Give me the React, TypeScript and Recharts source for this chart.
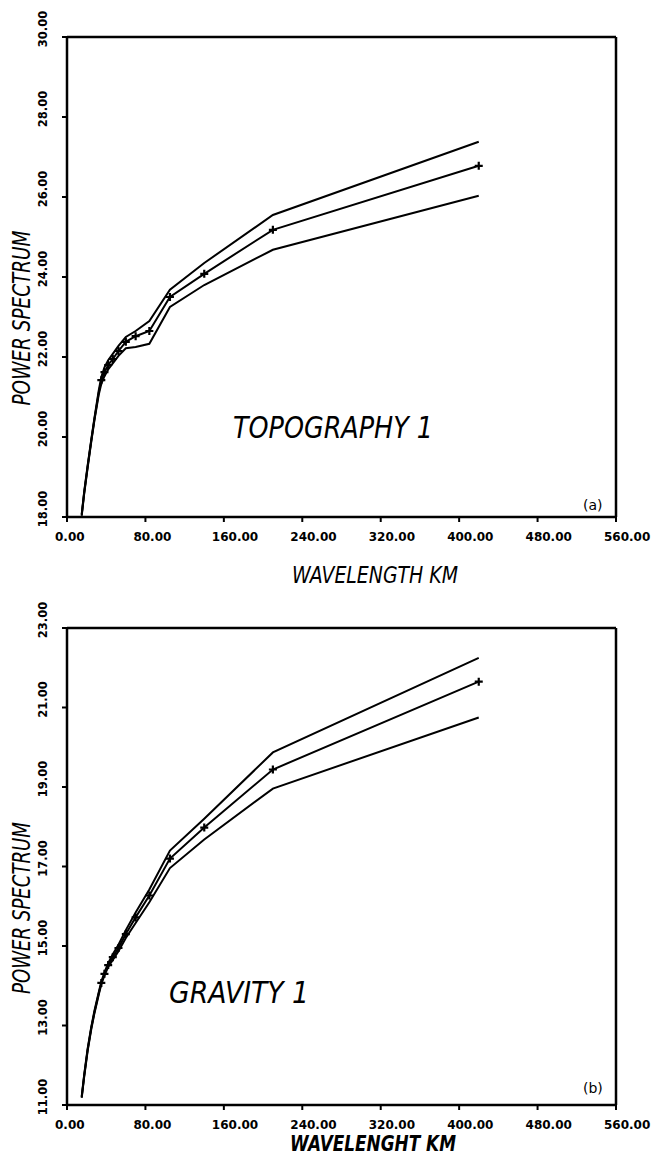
import React from "react";
import { LineChart, Line, XAxis, YAxis, ReferenceLine } from "recharts";

// wavelengths (km) shared by both spectra
const wavelength = [420, 210, 140, 105, 84, 70, 60, 52.5, 46.7, 42, 38.2, 35, 32.3, 28, 24.7, 21, 17.5, 15];

const topoUpper = [27.38, 25.55, 24.35, 23.68, 22.9, 22.65, 22.5, 22.28, 22.08, 21.92, 21.74, 21.5, 21.15, 20.48, 19.93, 19.28, 18.63, 18.07];
const topoMid = [26.78, 25.18, 24.08, 23.5, 22.65, 22.52, 22.38, 22.15, 21.95, 21.8, 21.62, 21.42, 21.1, 20.45, 19.9, 19.25, 18.6, 18.05];
const topoLower = [26.03, 24.68, 23.8, 23.25, 22.33, 22.25, 22.22, 22.03, 21.84, 21.69, 21.52, 21.33, 21.05, 20.42, 19.87, 19.22, 18.57, 18.03];

const gravUpper = [22.25, 19.87, 18.2, 17.4, 16.42, 15.84, 15.4, 15.03, 14.79, 14.57, 14.34, 14.1, 13.83, 13.37, 12.96, 12.41, 11.76, 11.22];
const gravMid = [21.65, 19.44, 17.98, 17.2, 16.27, 15.72, 15.3, 14.95, 14.72, 14.52, 14.3, 14.07, 13.8, 13.34, 12.93, 12.38, 11.73, 11.2];
const gravLower = [20.75, 18.96, 17.68, 16.96, 16.1, 15.58, 15.2, 14.87, 14.65, 14.47, 14.26, 14.04, 13.77, 13.31, 12.9, 12.35, 11.7, 11.18];

const xTicks = [0, 80, 160, 240, 320, 400, 480, 560];
const topoTicks = [18, 20, 22, 24, 26, 28, 30];
const gravTicks = [11, 13, 15, 17, 19, 21, 23];

const topoRows = wavelength.map((w, i) => ({ w, upper: topoUpper[i], mid: topoMid[i], lower: topoLower[i] }));
const gravRows = wavelength.map((w, i) => ({ w, upper: gravUpper[i], mid: gravMid[i], lower: gravLower[i] }));

const tickFont = '"DejaVu Sans", Verdana, sans-serif';
const handFont = '"DejaVu Sans Condensed", "Liberation Sans Narrow", "DejaVu Sans", sans-serif';

const XTick = (props: any) => {
  const { x, y, payload, dy } = props;
  return (
    <text x={x - 12} y={y} dy={dy} textAnchor="start" fontFamily={tickFont} fontWeight="bold" fontSize={12} fill="#000">
      {Number(payload.value).toFixed(2)}
    </text>
  );
};

const YTick = (props: any) => {
  const { x, y, payload } = props;
  const cx = x - 17;
  const cy = y - 8;
  return (
    <text
      x={cx}
      y={cy}
      transform={`rotate(-90 ${cx} ${cy})`}
      textAnchor="middle"
      dominantBaseline="central"
      fontFamily={tickFont}
      fontWeight="bold"
      fontSize={11.5}
      fill="#000"
    >
      {Number(payload.value).toFixed(2)}
    </text>
  );
};

const Plus = (props: any) => {
  const { cx, cy, payload, index } = props;
  if (payload.w < 35 || cx == null) return <g key={`p${index}`} />;
  return (
    <path
      key={`p${index}`}
      d={`M${cx - 4},${cy} L${cx + 4},${cy} M${cx},${cy - 4} L${cx},${cy + 4}`}
      stroke="#000"
      strokeWidth={2.2}
    />
  );
};

function Spectrum({ rows, ticks, top, height, axisH, labelDy }: { rows: any[]; ticks: number[]; top: number; height: number; axisH: number; labelDy: number }) {
  const lo = ticks[0];
  const hi = ticks[ticks.length - 1];
  return (
    <LineChart width={654} height={height} data={rows} margin={{ top, right: 38, bottom: 0, left: 0 }}>
      <XAxis
        dataKey="w"
        type="number"
        domain={[0, 560]}
        ticks={xTicks}
        height={axisH}
        tickSize={5}
        tick={<XTick dy={labelDy} />}
        axisLine={{ stroke: "#000", strokeWidth: 2.5 }}
        tickLine={{ stroke: "#000", strokeWidth: 2 }}
      />
      <YAxis
        type="number"
        domain={[lo, hi]}
        ticks={ticks}
        width={67}
        tickSize={5}
        tick={<YTick />}
        axisLine={{ stroke: "#000", strokeWidth: 2.5 }}
        tickLine={{ stroke: "#000", strokeWidth: 2 }}
      />
      <ReferenceLine y={hi} stroke="#000" strokeWidth={2.5} />
      <ReferenceLine x={560} stroke="#000" strokeWidth={2.5} />
      <Line type="linear" dataKey="upper" stroke="#000" strokeWidth={2} dot={false} isAnimationActive={false} />
      <Line type="linear" dataKey="lower" stroke="#000" strokeWidth={2} dot={false} isAnimationActive={false} />
      <Line type="linear" dataKey="mid" stroke="#000" strokeWidth={2} dot={<Plus />} isAnimationActive={false} />
    </LineChart>
  );
}

export default function App() {
  return (
    <div style={{ position: "absolute", top: 0, left: 0, width: 654, height: 1157, background: "#fff" }}>
      <div style={{ position: "absolute", top: 0, left: 0 }}>
        <Spectrum rows={topoRows} ticks={topoTicks} top={37} height={580} axisH={63} labelDy={17} />
      </div>
      <div style={{ position: "absolute", top: 580, left: 0 }}>
        <Spectrum rows={gravRows} ticks={gravTicks} top={48} height={577} axisH={52} labelDy={17} />
      </div>
      <svg width={654} height={1157} style={{ position: "absolute", top: 0, left: 0, pointerEvents: "none" }}>
        <g fontFamily={handFont} fontStyle="italic" fill="#000">
          <text x={22} y={318} transform="rotate(-90 22 318)" textAnchor="middle" dominantBaseline="central" fontSize={24} textLength={175} lengthAdjust="spacingAndGlyphs">
            POWER SPECTRUM
          </text>
          <text x={22} y={908} transform="rotate(-90 22 908)" textAnchor="middle" dominantBaseline="central" fontSize={24} textLength={172} lengthAdjust="spacingAndGlyphs">
            POWER SPECTRUM
          </text>
          <text x={233} y={438} fontSize={31} textLength={200} lengthAdjust="spacingAndGlyphs">
            TOPOGRAPHY 1
          </text>
          <text x={169} y={1003} fontSize={31} textLength={140} lengthAdjust="spacingAndGlyphs">
            GRAVITY 1
          </text>
          <text x={292} y={583} fontSize={23} textLength={166} lengthAdjust="spacingAndGlyphs">
            WAVELENGTH KM
          </text>
          <text x={290} y={1151} fontSize={22} fontWeight="bold" textLength={166} lengthAdjust="spacingAndGlyphs">
            WAVELENGHT KM
          </text>
        </g>
        <g fontFamily={tickFont} fill="#000" fontSize={14}>
          <text x={583} y={510}>(a)</text>
          <text x={583} y={1093}>(b)</text>
        </g>
      </svg>
    </div>
  );
}
